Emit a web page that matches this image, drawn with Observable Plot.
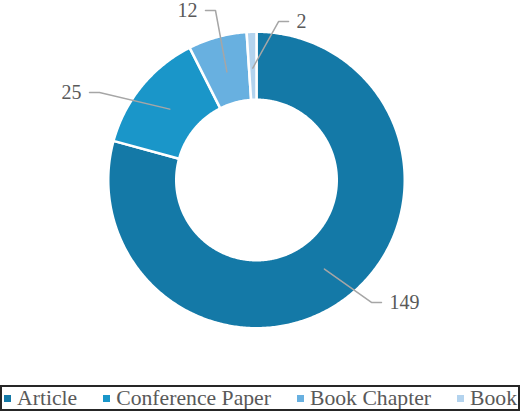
<!DOCTYPE html>
<html><head><meta charset="utf-8">
<script src="https://cdn.jsdelivr.net/npm/d3@7"></script>
<script src="https://cdn.jsdelivr.net/npm/@observablehq/plot@0.6"></script>
<style>
body{margin:0;background:#fff;}
#chart svg{display:block;}
#legend{box-sizing:border-box;width:520px;height:26px;border:2px solid #262626;display:flex;align-items:center;font-family:"Liberation Serif","Times New Roman",serif;font-size:21.7px;color:#595959;padding-left:2px;white-space:nowrap;overflow:hidden;}
.item{display:flex;align-items:center;margin-right:26px;}
.sw{width:7px;height:7px;margin-right:6px;flex:none;}
</style></head><body>
<div id="chart"></div><div id="legend"></div>
<script>
const categories = ["Article", "Conference Paper", "Book Chapter", "Book"];
const counts = [149, 25, 12, 2];
const colors = ["#1479a7", "#1a96c9", "#68b0e0", "#b3d3ee"];
// label elbow offsets (layout, in radius units relative to chart centre)
const elbows = [[0.782, -0.833], [-1.068, 0.595], [-0.279, 1.153], [0.150, 1.078]];

const W = 520, H = 385, cx = 256, cy = 179.5, R = 147;
const sw = 2.5;
const rOut = 1 + sw / 2 / R, rIn = 0.5544 - sw / 2 / R;

const rows = categories.map((c, i) => ({category: c, count: counts[i]}));
const arcs = d3.pie().sort(null).value(d => d.count)(rows);

const ring = [];
arcs.forEach(a => {
  const n = Math.max(2, Math.ceil((a.endAngle - a.startAngle) / 0.01));
  for (let k = 0; k <= n; k++) {
    const t = a.startAngle + (a.endAngle - a.startAngle) * k / n;
    ring.push({category: a.data.category, x: rOut * Math.sin(t), y: rOut * Math.cos(t)});
  }
  for (let k = n; k >= 0; k--) {
    const t = a.startAngle + (a.endAngle - a.startAngle) * k / n;
    ring.push({category: a.data.category, x: rIn * Math.sin(t), y: rIn * Math.cos(t)});
  }
});

const leaders = [], labels = [];
arcs.forEach((a, i) => {
  const mid = (a.startAngle + a.endAngle) / 2;
  const ra = 112 / R;
  const [ex, ey] = elbows[i];
  const side = ex >= 0 ? 1 : -1;
  const sx = ex + side * 10 / R;
  leaders.push({category: a.data.category, x: ra * Math.sin(mid), y: ra * Math.cos(mid)});
  leaders.push({category: a.data.category, x: ex, y: ey});
  leaders.push({category: a.data.category, x: sx, y: ey});
  labels.push({x: sx + side * 8 / R, y: ey, text: String(a.data.count), anchor: side > 0 ? "start" : "end"});
});

const chart = Plot.plot({
  width: W, height: H,
  marginTop: 0, marginRight: 0, marginBottom: 0, marginLeft: 0,
  x: {domain: [-cx / R, (W - cx) / R], range: [0, W], axis: null},
  y: {domain: [-(H - cy) / R, cy / R], range: [H, 0], axis: null},
  color: {domain: categories, range: colors},
  style: {background: "white"},
  marks: [
    Plot.line(ring, {x: "x", y: "y", z: "category", fill: "category", stroke: "white", strokeWidth: sw, curve: "linear-closed"}),
    Plot.line(leaders, {x: "x", y: "y", z: "category", stroke: "#a6a6a6", strokeWidth: 1.5}),
    Plot.text(labels.filter(d => d.anchor === "start"), {x: "x", y: "y", text: "text", textAnchor: "start", fontSize: 20, fontFamily: "Liberation Serif, Times New Roman, serif", fill: "#595959"}),
    Plot.text(labels.filter(d => d.anchor === "end"), {x: "x", y: "y", text: "text", textAnchor: "end", fontSize: 20, fontFamily: "Liberation Serif, Times New Roman, serif", fill: "#595959"})
  ]
});
document.getElementById("chart").appendChild(chart);

const legend = document.getElementById("legend");
categories.forEach((c, i) => {
  const item = document.createElement("div");
  item.className = "item";
  const s = document.createElement("span");
  s.className = "sw";
  s.style.background = colors[i];
  const t = document.createElement("span");
  t.textContent = c;
  item.appendChild(s); item.appendChild(t);
  legend.appendChild(item);
});
</script>
</body></html>
